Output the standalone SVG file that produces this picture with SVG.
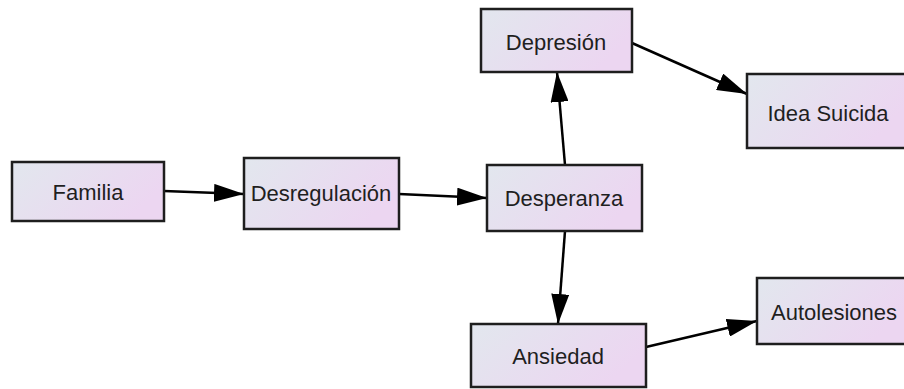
<svg xmlns="http://www.w3.org/2000/svg" width="904" height="389" viewBox="0 0 904 389">
  <defs>
    <linearGradient id="boxFill" x1="0" y1="0" x2="1" y2="0.4">
      <stop offset="0" stop-color="#e2e7ee"/>
      <stop offset="1" stop-color="#ecd6f1"/>
    </linearGradient>
    <marker id="arrow" markerUnits="userSpaceOnUse" markerWidth="32" markerHeight="18" refX="30" refY="9" orient="auto">
      <path d="M0,0 L30,9 L0,18 Z" fill="#000"/>
    </marker>
    <style>
      .box { fill: url(#boxFill); stroke: #1e1e1e; stroke-width: 2.5; }
      .lbl { font-family: "Liberation Sans", Arial, sans-serif; font-size: 22px; fill: #1f1f1f; text-anchor: middle; dominant-baseline: central; }
      .edge { stroke: #000; stroke-width: 2.5; fill: none; marker-end: url(#arrow); }
    </style>
  </defs>

  <g id="connectors">
    <line class="edge" x1="164" y1="191" x2="244" y2="194"/>
    <line class="edge" x1="399" y1="194" x2="487" y2="198"/>
    <line class="edge" x1="565" y1="165" x2="557" y2="72"/>
    <line class="edge" x1="632" y1="43" x2="747" y2="94"/>
    <line class="edge" x1="565" y1="231" x2="558" y2="324"/>
    <line class="edge" x1="646" y1="347" x2="757" y2="321"/>
  </g>

  <g id="familia">
    <rect class="box" x="12" y="162" width="152" height="59"/>
    <text class="lbl" x="88" y="192">Familia</text>
  </g>
  <g id="desregulacion">
    <rect class="box" x="244" y="158" width="155" height="71"/>
    <text class="lbl" x="321" y="193">Desregulación</text>
  </g>
  <g id="desperanza">
    <rect class="box" x="487" y="165" width="155" height="66"/>
    <text class="lbl" x="564" y="198">Desperanza</text>
  </g>
  <g id="depresion">
    <rect class="box" x="481" y="9" width="151" height="63"/>
    <text class="lbl" x="556" y="42">Depresión</text>
  </g>
  <g id="idea-suicida">
    <rect class="box" x="747" y="74" width="160" height="74"/>
    <text class="lbl" x="828" y="113">Idea Suicida</text>
  </g>
  <g id="ansiedad">
    <rect class="box" x="471" y="324" width="175" height="63"/>
    <text class="lbl" x="558" y="356">Ansiedad</text>
  </g>
  <g id="autolesiones">
    <rect class="box" x="757" y="278" width="150" height="66"/>
    <text class="lbl" x="834" y="312">Autolesiones</text>
  </g>
</svg>
